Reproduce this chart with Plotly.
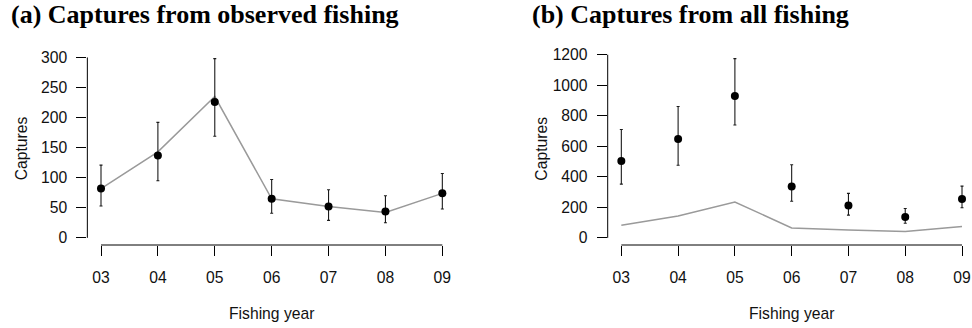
import plotly.graph_objects as go

# ---- data ----
years = ["03", "04", "05", "06", "07", "08", "09"]
obs_est = [82, 137, 226, 65, 52, 44, 74]
obs_lo = [53, 95, 169, 41, 29, 25, 48]
obs_hi = [121, 192, 298, 97, 80, 70, 107]
all_est = [503, 647, 929, 337, 212, 136, 254]
all_lo = [352, 476, 739, 240, 149, 96, 197]
all_hi = [710, 861, 1174, 479, 291, 192, 339]
observed_captures = [82, 143, 235, 65, 52, 42, 74]

left_ticks = [0, 50, 100, 150, 200, 250, 300]
right_ticks = [0, 200, 400, 600, 800, 1000, 1200]

W, H = 972, 328
xi = list(range(len(years)))

SANS = "Liberation Sans, Arial, Helvetica, sans-serif"
SERIF = "Liberation Serif, Times New Roman, serif"
FS = 15.7

# layout geometry (pixels)
plot_top, plot_bot = 51.5, 245.0
left_l, left_r = 87.35, 455.98
right_l = 607.7
right_spacing = 56.78

ydom = [1 - plot_bot / H, 1 - plot_top / H]

fig = go.Figure()


def add_panel(est, lo, hi, xa, ya):
    fig.add_trace(go.Scatter(
        x=xi, y=observed_captures, mode="lines", xaxis=xa, yaxis=ya,
        line=dict(color="#9a9a9a", width=1.5), showlegend=False, hoverinfo="skip"))
    fig.add_trace(go.Scatter(
        x=xi, y=est, mode="markers", xaxis=xa, yaxis=ya,
        marker=dict(color="black", size=8),
        error_y=dict(type="data", symmetric=False,
                     array=[h - e for h, e in zip(hi, est)],
                     arrayminus=[e - l for e, l in zip(est, lo)],
                     color="#1a1a1a", thickness=1.1, width=1.5),
        showlegend=False))


add_panel(obs_est, obs_lo, obs_hi, "x", "y")
add_panel(all_est, all_lo, all_hi, "x2", "y2")


def yr(hi):
    m = max(hi)
    return [-0.04 * m, m * 1.04]


n = len(years)
axis_common = dict(showgrid=False, zeroline=False, showline=False, ticks="outside",
                   ticklen=10, tickwidth=1, tickcolor="black", automargin=False,
                   tickfont=dict(family=SANS, size=FS, color="#111"))

fig.update_layout(
    width=W, height=H, margin=dict(l=0, r=0, t=0, b=0),
    paper_bgcolor="white", plot_bgcolor="white", template="none",
    xaxis=dict(domain=[left_l / W, left_r / W], range=[-0.24, n - 1 + 0.24],
               tickvals=xi, ticktext=years, anchor="y", ticklabelstandoff=8, **axis_common),
    yaxis=dict(domain=ydom, range=yr(obs_hi), tickvals=left_ticks, anchor="x",
               ticklabelstandoff=6, **axis_common),
    xaxis2=dict(domain=[right_l / W, 1.0],
                range=[-0.24, -0.24 + (W - right_l) / right_spacing],
                tickvals=xi, ticktext=years, anchor="y2", ticklabelstandoff=8, **axis_common),
    yaxis2=dict(domain=ydom, range=yr(all_hi), tickvals=right_ticks, anchor="x2",
                ticklabelstandoff=6, **axis_common),
)

# R-style axis lines spanning first to last tick
shapes = []
for xa, ya, xl, ticks in [("x", "y", left_l, left_ticks), ("x2", "y2", right_l, right_ticks)]:
    shapes.append(dict(type="line", xref=xa, yref="paper", x0=0, x1=n - 1,
                       y0=ydom[0], y1=ydom[0], line=dict(color="black", width=1)))
    shapes.append(dict(type="line", xref="paper", yref=ya, x0=xl / W, x1=xl / W,
                       y0=ticks[0], y1=ticks[-1], line=dict(color="black", width=1)))
fig.update_layout(shapes=shapes)

ann = []
titles = [("(a) Captures from observed fishing", 9), ("(b) Captures from all fishing", 530)]
for t, px in titles:
    ann.append(dict(text="<b>%s</b>" % t, x=px / W, y=1 - 14 / H, xref="paper", yref="paper",
                    xanchor="left", yanchor="middle", showarrow=False,
                    font=dict(family=SERIF, size=26, color="black")))
for xa, xl in [("x", left_l), ("x2", right_l)]:
    ann.append(dict(text="Fishing year", x=(n - 1) / 2, xref=xa, y=1 - 313 / H, yref="paper",
                    xanchor="center", yanchor="middle", showarrow=False,
                    font=dict(family=SANS, size=FS, color="#111")))
    ann.append(dict(text="Captures", x=(xl - 66.3) / W, xref="paper",
                    y=(ydom[0] + ydom[1]) / 2, yref="paper", textangle=-90,
                    xanchor="center", yanchor="middle", showarrow=False,
                    font=dict(family=SANS, size=FS, color="#111")))
fig.update_layout(annotations=ann)

fig.write_html("out.html")
